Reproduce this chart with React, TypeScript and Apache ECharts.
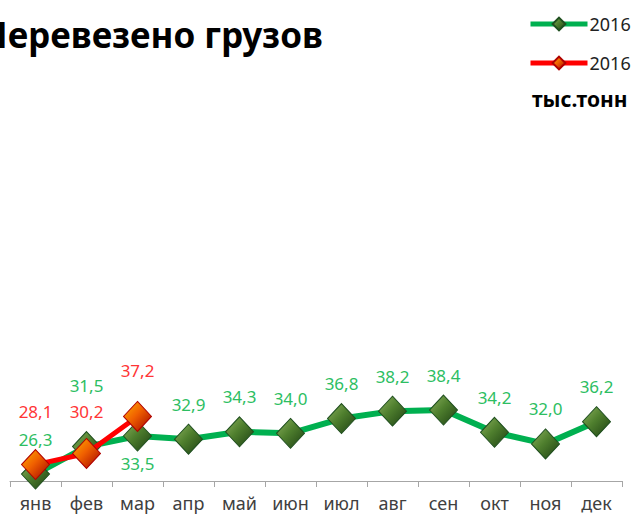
import React, { useEffect, useRef } from 'react';
import * as echarts from 'echarts';

const months = ['янв', 'фев', 'мар', 'апр', 'май', 'июн', 'июл', 'авг', 'сен', 'окт', 'ноя', 'дек'];
const cargoGreen = [26.3, 31.5, 33.5, 32.9, 34.3, 34.0, 36.8, 38.2, 38.4, 34.2, 32.0, 36.2];
const cargoRed = [28.1, 30.2, 37.2];
const seriesNames = ['2016', '2016'];
const titleText = 'Перевезено грузов';
const unitText = 'тыс.тонн';

const FONT = '"Noto Sans", "Open Sans", sans-serif';

// label placement tweaks (styling only)
const greenLabelShift: Record<number, any> = {
  1: { offset: [0, -26] },
  2: { position: 'bottom', distance: 3 },
};
const redLabelShift: Record<number, any> = {
  0: { offset: [0, -18] },
  1: { offset: [0, -7] },
  2: { offset: [0, -11] },
};

export default function App() {
  const ref = useRef<HTMLDivElement>(null);
  useEffect(() => {
    if (!ref.current) return;
    const chart = echarts.init(ref.current, undefined, { renderer: 'svg' });
    const greenSymbol = new echarts.graphic.LinearGradient(0, 0, 1, 1, [
      { offset: 0, color: '#8DB25E' },
      { offset: 0.45, color: '#4F7F2E' },
      { offset: 1, color: '#1C3F12' },
    ]);
    const redSymbol = new echarts.graphic.LinearGradient(0, 0, 1, 1, [
      { offset: 0, color: '#FFB000' },
      { offset: 0.45, color: '#F06000' },
      { offset: 1, color: '#A00000' },
    ]);
    const labelBase = {
      show: true,
      position: 'top',
      distance: 11,
      fontSize: 17,
      fontFamily: FONT,
      formatter: (p: any) => p.value.toFixed(1).replace('.', ','),
    };
    chart.setOption({
      animation: false,
      title: {
        text: titleText,
        left: -24,
        top: 12,
        textStyle: { fontFamily: FONT, fontWeight: 'bold', fontSize: 35, color: '#000' },
      },
      legend: {
        orient: 'vertical',
        left: 523,
        top: 10,
        itemWidth: 57,
        itemHeight: 16,
        itemGap: 21,
        data: ['g', 'r'],
        lineStyle: { width: 5 },
        formatter: (n: string) => (n === 'g' ? seriesNames[0] : seriesNames[1]),
        textStyle: { fontFamily: FONT, fontSize: 18, color: '#222', padding: [0, 0, 0, -3] },
      },
      graphic: [
        {
          type: 'text',
          left: 532,
          top: 88,
          style: { text: unitText, font: `bold 21px ${FONT}`, fill: '#000' },
        },
      ],
      grid: { left: 10, right: 10, top: 84, bottom: 34 },
      xAxis: {
        type: 'category',
        data: months,
        boundaryGap: true,
        axisLine: { lineStyle: { color: '#A6A6A6', width: 1 } },
        axisTick: { show: true, length: 6, lineStyle: { color: '#A6A6A6' } },
        axisLabel: { fontFamily: FONT, fontSize: 18, lineHeight: 18, color: '#404040', margin: 13 },
      },
      yAxis: { type: 'value', min: 25, max: 100, show: false, splitLine: { show: false } },
      series: [
        {
          name: 'g',
          type: 'line',
          data: cargoGreen.map((v, i) => ({ value: v, label: greenLabelShift[i] })),
          lineStyle: { color: '#00B050', width: 6 },
          itemStyle: { color: greenSymbol, borderColor: '#1F4F1F', borderWidth: 1 },
          symbol: 'diamond',
          symbolSize: [28, 30],
          z: 2,
          label: { ...labelBase, color: '#2DBE62' },
        },
        {
          name: 'r',
          type: 'line',
          data: cargoRed.map((v, i) => ({ value: v, label: redLabelShift[i] })),
          lineStyle: { color: '#FF0000', width: 5 },
          itemStyle: { color: redSymbol, borderColor: '#B00000', borderWidth: 1 },
          symbol: 'diamond',
          symbolSize: [28, 30],
          z: 3,
          label: { ...labelBase, color: '#FF3535' },
        },
      ],
    });
    return () => chart.dispose();
  }, []);
  return <div ref={ref} style={{ position: 'absolute', left: 0, top: 0, width: 632, height: 515 }} />;
}
